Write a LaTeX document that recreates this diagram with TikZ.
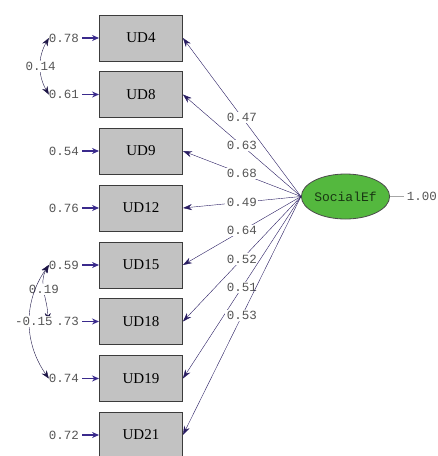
\documentclass[tikz,border=0pt]{standalone}
\usepackage{fontspec}
\setmainfont{Liberation Serif}
\setmonofont{Liberation Mono}
\usetikzlibrary{shapes,arrows.meta,positioning}

\definecolor{pathblue}{RGB}{58,42,140}
\definecolor{boxgray}{RGB}{194,194,194}
\definecolor{boxedge}{RGB}{60,60,60}
\definecolor{latgreen}{RGB}{84,184,62}
\definecolor{numgray}{RGB}{85,85,85}

\begin{document}
\begin{tikzpicture}[
    x=1pt, y=-1pt,
    item/.style={rectangle, draw=boxedge, line width=0.9pt, fill=boxgray, minimum width=83pt, minimum height=46pt, font=\fontsize{15}{16}\selectfont},
    latent/.style={ellipse, draw=black!70, thick, fill=latgreen, minimum width=83pt, minimum height=45pt, inner sep=0pt, font=\ttfamily\fontsize{13}{14}\selectfont, text=latgreen!30!black},
    num/.style={font=\ttfamily\fontsize{12.5}{13}\selectfont, text=numgray, inner sep=0pt},
    coef/.style={num, fill=white, inner sep=1.5pt},
    loading/.style={-{Stealth[length=9pt,width=6pt]}, draw=pathblue!70!black, thin},
    errarrow/.style={-{Stealth[length=7pt,width=6pt]}, draw=pathblue, line width=1.3pt, shorten <=3pt},
    cov/.style={{Stealth[length=8pt,width=6pt]}-{Stealth[length=8pt,width=6pt]}, draw=pathblue!50!black, thin}
]
\useasboundingbox (0,0) rectangle (438,456);

% Observed items
\node[item] (ud4) at (141,38) {UD4};
\node[item] (ud8) at (141,94.5) {UD8};
\node[item] (ud9) at (141,151) {UD9};
\node[item] (ud12) at (141,208) {UD12};
\node[item] (ud15) at (141,265) {UD15};
\node[item] (ud18) at (141,321.5) {UD18};
\node[item] (ud19) at (141,378.5) {UD19};
\node[item] (ud21) at (141,435) {UD21};

% Latent factor
\node[latent] (social) at (345.5,196.5) {SocialEf};
\node[num] (fvar) at (422,196.5) {1.00};
\draw[draw=gray!70, thin, shorten >=3pt] (social) -- (fvar);

% Error variances
\node[num] (e4) at (64,38) {0.78};
\node[num] (e8) at (64,94.5) {0.61};
\node[num] (e9) at (64,151) {0.54};
\node[num] (e12) at (64,208) {0.76};
\node[num] (e15) at (64,265) {0.59};
\node[num] (e18) at (64,321.5) {0.73};
\node[num] (e19) at (64,378.5) {0.74};
\node[num] (e21) at (64,435) {0.72};

\draw[errarrow] (e4) -- (ud4);
\draw[errarrow] (e8) -- (ud8);
\draw[errarrow] (e9) -- (ud9);
\draw[errarrow] (e12) -- (ud12);
\draw[errarrow] (e15) -- (ud15);
\draw[errarrow] (e18) -- (ud18);
\draw[errarrow] (e19) -- (ud19);
\draw[errarrow] (e21) -- (ud21);

% Loadings
\draw[loading] (social.west) -- (ud4.east) node[coef, pos=0.5] {0.47};
\draw[loading] (social.west) -- (ud8.east) node[coef, pos=0.5] {0.63};
\draw[loading] (social.west) -- (ud9.east) node[coef, pos=0.5] {0.68};
\draw[loading] (social.west) -- (ud12.east) node[coef, pos=0.5] {0.49};
\draw[loading] (social.west) -- (ud15.east) node[coef, pos=0.5] {0.64};
\draw[loading] (social.west) -- (ud18.east) node[coef, pos=0.5] {0.52};
\draw[loading] (social.west) -- (ud19.east) node[coef, pos=0.5] {0.51};
\draw[loading] (social.west) -- (ud21.east) node[coef, pos=0.5] {0.53};

% Error covariances
\draw[cov] (e4.west) to[out=240, in=120] node[coef] {0.14} (e8.west);
\draw[cov] (e15.west) to[out=240, in=90] node[coef, pos=0.45] {0.19} ([xshift=-1pt, yshift=-4pt]e18.north west);
\draw[cov] (e15.west) to[out=235, in=125] node[coef, inner xsep=3pt, inner ysep=1.5pt, pos=0.5, xshift=4pt] {-0.15} (e19.west);

\end{tikzpicture}
\end{document}
